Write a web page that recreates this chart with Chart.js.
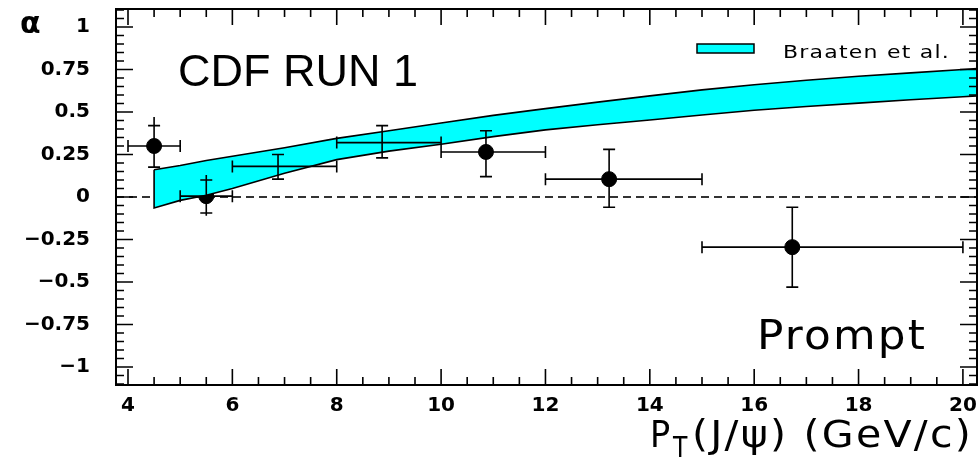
<!DOCTYPE html>
<html>
<head>
<meta charset="utf-8">
<script src="https://cdn.jsdelivr.net/npm/chart.js@4.4.0/dist/chart.umd.min.js"></script>
<style>
  html, body { margin: 0; padding: 0; background: #fff; }
  #wrap { width: 979px; height: 462px; }
</style>
</head>
<body>
<div id="wrap"><canvas id="alphaChart" width="979" height="462"></canvas></div>
<script>
// measured points (pT bin centres) and their errors
const ptCenter = [4.5, 5.5, 6.875, 8.87, 10.86, 13.22, 16.73];
const alphaVal = [0.30, 0.005, 0.18, 0.32, 0.265, 0.105, -0.295];
const ptLow    = [4, 5, 6, 8, 10, 12, 15];
const ptHigh   = [5, 6, 8, 10, 12, 15, 20];
const alphaLow  = [0.176, -0.11, 0.105, 0.23, 0.12, -0.06, -0.53];
const alphaHigh = [0.47, 0.13, 0.25, 0.42, 0.39, 0.28, -0.06];
const capLow    = [0.176, -0.094, 0.105, 0.23, 0.12, -0.06, -0.53];
const capHigh   = [0.42, 0.10, 0.25, 0.42, 0.39, 0.28, -0.06];

// Braaten et al. prediction band
const bandPt   = [4.5, 5, 5.5, 6, 7, 8, 9, 10, 11, 12, 13, 14, 15, 16, 17, 18, 19, 20, 20.27];
const bandHigh = [0.16, 0.185, 0.215, 0.24, 0.29, 0.345, 0.39, 0.435, 0.48, 0.52, 0.558, 0.595, 0.63, 0.66, 0.687, 0.71, 0.73, 0.75, 0.755];
const bandLow  = [-0.065, -0.02, 0.01, 0.05, 0.14, 0.22, 0.27, 0.31, 0.355, 0.395, 0.425, 0.453, 0.482, 0.51, 0.532, 0.552, 0.572, 0.59, 0.595];

const xTicks = [4, 6, 8, 10, 12, 14, 16, 18, 20];
const yTicks = [-1, -0.75, -0.5, -0.25, 0, 0.25, 0.5, 0.75, 1];

// closed outline: along the top, back along the bottom
const bandShape = bandPt.map((p, i) => ({ x: p, y: bandHigh[i] }))
  .concat(bandPt.map((p, i) => ({ x: p, y: bandLow[i] })).reverse());
bandShape.push({ x: bandPt[0], y: bandHigh[0] });

// draws text squeezed/stretched to a given width (the ROOT font is wide)
function fitText(ctx, text, x, y, width) {
  const w = ctx.measureText(text).width;
  ctx.save();
  ctx.translate(x, y);
  ctx.scale(width / w, 1);
  ctx.fillText(text, 0, 0);
  ctx.restore();
}

const rootPlot = {
  id: 'rootPlot',
  beforeDatasetsDraw(chart) {
    const { ctx, chartArea: a, scales: { y } } = chart;
    const y0 = y.getPixelForValue(0);
    ctx.save();
    ctx.setLineDash([8, 5]);
    ctx.strokeStyle = '#333';
    ctx.lineWidth = 2;
    ctx.beginPath();
    ctx.moveTo(a.left, y0);
    ctx.lineTo(a.right, y0);
    ctx.stroke();
    ctx.restore();
  },
  afterDatasetsDraw(chart) {
    const { ctx, chartArea: a, scales: { x, y } } = chart;
    ctx.save();
    ctx.strokeStyle = '#000';
    ctx.lineWidth = 1.6;
    ctx.beginPath();
    ptCenter.forEach((p, i) => {
      const px = x.getPixelForValue(p), py = y.getPixelForValue(alphaVal[i]);
      const xl = x.getPixelForValue(ptLow[i]), xh = x.getPixelForValue(ptHigh[i]);
      const yl = y.getPixelForValue(alphaLow[i]), yh = y.getPixelForValue(alphaHigh[i]);
      const cl = y.getPixelForValue(capLow[i]), ch = y.getPixelForValue(capHigh[i]);
      ctx.moveTo(xl, py); ctx.lineTo(xh, py);
      ctx.moveTo(xl, py - 6); ctx.lineTo(xl, py + 6);
      ctx.moveTo(xh, py - 6); ctx.lineTo(xh, py + 6);
      ctx.moveTo(px, yh); ctx.lineTo(px, yl);
      ctx.moveTo(px - 6, ch); ctx.lineTo(px + 6, ch);
      ctx.moveTo(px - 6, cl); ctx.lineTo(px + 6, cl);
    });
    ctx.stroke();

    // frame with inward ticks
    ctx.lineWidth = 2;
    ctx.strokeRect(a.left, a.top, a.right - a.left, a.bottom - a.top);
    ctx.lineWidth = 1.6;
    ctx.beginPath();
    for (let i = Math.ceil(x.min * 2); i <= Math.floor(x.max * 2); i++) {
      const v = i / 2, px = x.getPixelForValue(v);
      const len = xTicks.includes(v) ? 16 : 8;
      ctx.moveTo(px, a.bottom); ctx.lineTo(px, a.bottom - len);
      ctx.moveTo(px, a.top); ctx.lineTo(px, a.top + len);
    }
    for (let i = Math.ceil(y.min * 20); i <= Math.floor(y.max * 20); i++) {
      const py = y.getPixelForValue(i / 20);
      const len = i % 5 === 0 ? 17 : 8;
      ctx.moveTo(a.left, py); ctx.lineTo(a.left + len, py);
      ctx.moveTo(a.right, py); ctx.lineTo(a.right - len, py);
    }
    ctx.stroke();
    ctx.restore();
  },
  afterDraw(chart) {
    const { ctx } = chart;
    ctx.save();
    ctx.textBaseline = 'alphabetic';

    // legend
    ctx.fillStyle = '#00ffff';
    ctx.fillRect(697, 44, 57, 9);
    ctx.strokeStyle = '#000';
    ctx.lineWidth = 1.5;
    ctx.strokeRect(697, 44, 57, 9);
    ctx.fillStyle = '#000';
    ctx.font = '18px "DejaVu Sans"';
    ctx.letterSpacing = '1px';
    fitText(ctx, 'Braaten et al.', 783, 57.5, 167);

    ctx.letterSpacing = '0px';
    ctx.font = '45px "Liberation Sans", Arial, sans-serif';
    ctx.fillText('CDF RUN 1', 178, 86);

    ctx.font = '40px "DejaVu Sans"';
    ctx.letterSpacing = '2px';
    fitText(ctx, 'Prompt', 757, 349, 170);

    // axis title with subscript
    ctx.letterSpacing = '2px';
    ctx.font = '37px "DejaVu Sans"';
    fitText(ctx, 'P', 650, 447, 22);
    ctx.font = '29px "DejaVu Sans"';
    fitText(ctx, 'T', 673, 457, 16);
    ctx.font = '37px "DejaVu Sans"';
    fitText(ctx, '(J/\u03C8) (GeV/c)', 692, 447, 281);

    ctx.letterSpacing = '0px';
    ctx.font = 'bold 30px "DejaVu Sans"';
    ctx.fillText('\u03B1', 20, 33);
    ctx.restore();
  }
};

const tickFont = { family: 'DejaVu Sans', size: 20, weight: 'bold' };

new Chart(document.getElementById('alphaChart'), {
  type: 'scatter',
  data: {
    datasets: [
      {
        label: 'Braaten et al.',
        type: 'line',
        data: bandShape,
        borderColor: '#000',
        borderWidth: 1.6,
        backgroundColor: '#00ffff',
        fill: 'shape',
        pointRadius: 0,
        tension: 0
      },
      {
        label: 'CDF',
        data: ptCenter.map((p, i) => ({ x: p, y: alphaVal[i] })),
        backgroundColor: '#000',
        borderColor: '#000',
        pointRadius: 7.5,
        pointHoverRadius: 7.5
      }
    ]
  },
  options: {
    responsive: false,
    animation: false,
    devicePixelRatio: 1,
    layout: { autoPadding: false, padding: { top: 9, right: 2, left: 0, bottom: 0 } },
    plugins: { legend: { display: false }, tooltip: { enabled: false } },
    scales: {
      x: {
        type: 'linear',
        min: 3.77,
        max: 20.27,
        afterBuildTicks: s => { s.ticks = xTicks.map(v => ({ value: v })); },
        afterFit: s => { s.height = 77; s.paddingLeft = 0; s.paddingRight = 0; },
        grid: { display: false, drawTicks: false },
        border: { display: false },
        ticks: { color: '#000', font: tickFont, padding: 9, maxRotation: 0, autoSkip: false }
      },
      y: {
        type: 'linear',
        min: -1.106,
        max: 1.106,
        afterBuildTicks: s => { s.ticks = yTicks.map(v => ({ value: v })); },
        afterFit: s => { s.width = 116; s.paddingTop = 0; s.paddingBottom = 0; },
        grid: { display: false, drawTicks: false },
        border: { display: false },
        ticks: {
          color: '#000',
          font: tickFont,
          padding: 26,
          autoSkip: false,
          callback: v => String(v).replace('-', '\u2212')
        }
      }
    }
  },
  plugins: [rootPlot]
});
</script>
</body>
</html>
